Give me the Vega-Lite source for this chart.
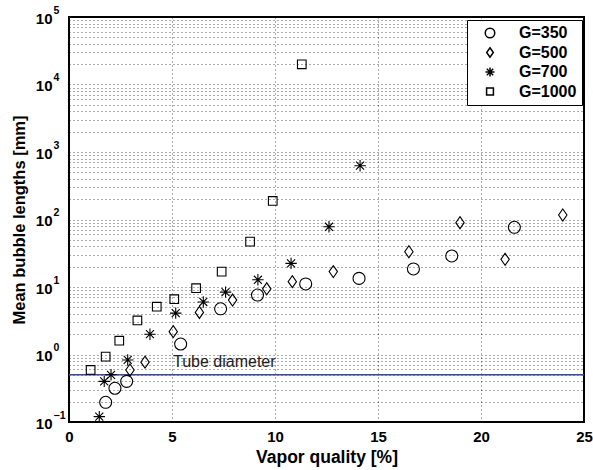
{
  "$schema": "https://vega.github.io/schema/vega-lite/v6.json",
  "width": 515,
  "height": 405,
  "autosize": {"type": "none"},
  "padding": {"left": 69, "top": 17, "right": 9, "bottom": 48},
  "background": "white",
  "config": {
    "font": "Liberation Sans",
    "view": {"stroke": "black", "strokeWidth": 2},
    "axis": {
      "domain": false,
      "ticks": false,
      "labelFont": "Liberation Sans",
      "labelFontWeight": "bold",
      "labelColor": "black",
      "titleFont": "Liberation Sans",
      "titleFontWeight": "bold",
      "titleColor": "black",
      "gridColor": "#000",
      "gridDash": [1, 3],
      "gridWidth": 1,
      "gridOpacity": 0.65
    }
  },
  "datasets": {
    "points": [
      {"x": 1.78, "y": 0.196, "series": "G=350"},
      {"x": 2.23, "y": 0.316, "series": "G=350"},
      {"x": 2.8, "y": 0.40, "series": "G=350"},
      {"x": 5.42, "y": 1.43, "series": "G=350"},
      {"x": 7.36, "y": 4.75, "series": "G=350"},
      {"x": 9.15, "y": 7.6, "series": "G=350"},
      {"x": 11.49, "y": 11.1, "series": "G=350"},
      {"x": 14.08, "y": 13.4, "series": "G=350"},
      {"x": 16.72, "y": 18.5, "series": "G=350"},
      {"x": 18.58, "y": 28.8, "series": "G=350"},
      {"x": 21.62, "y": 76.6, "series": "G=350"},
      {"x": 2.96, "y": 0.59, "series": "G=500"},
      {"x": 3.69, "y": 0.77, "series": "G=500"},
      {"x": 5.06, "y": 2.18, "series": "G=500"},
      {"x": 6.33, "y": 4.2, "series": "G=500"},
      {"x": 7.94, "y": 6.4, "series": "G=500"},
      {"x": 9.6, "y": 9.4, "series": "G=500"},
      {"x": 10.84, "y": 12, "series": "G=500"},
      {"x": 12.83, "y": 16.9, "series": "G=500"},
      {"x": 16.5, "y": 33.3, "series": "G=500"},
      {"x": 18.98, "y": 89.7, "series": "G=500"},
      {"x": 21.17, "y": 25.7, "series": "G=500"},
      {"x": 23.97, "y": 116.7, "series": "G=500"},
      {"x": 1.47, "y": 0.12, "series": "G=700"},
      {"x": 1.71, "y": 0.40, "series": "G=700"},
      {"x": 2.04, "y": 0.50, "series": "G=700"},
      {"x": 2.85, "y": 0.83, "series": "G=700"},
      {"x": 3.93, "y": 2.0, "series": "G=700"},
      {"x": 5.18, "y": 4.1, "series": "G=700"},
      {"x": 6.52, "y": 6.0, "series": "G=700"},
      {"x": 7.6, "y": 8.4, "series": "G=700"},
      {"x": 9.17, "y": 12.8, "series": "G=700"},
      {"x": 10.78, "y": 22.4, "series": "G=700"},
      {"x": 12.62, "y": 78, "series": "G=700"},
      {"x": 14.13, "y": 627, "series": "G=700"},
      {"x": 1.05, "y": 0.59, "series": "G=1000"},
      {"x": 1.78, "y": 0.93, "series": "G=1000"},
      {"x": 2.44, "y": 1.6, "series": "G=1000"},
      {"x": 3.32, "y": 3.2, "series": "G=1000"},
      {"x": 4.26, "y": 5.1, "series": "G=1000"},
      {"x": 5.11, "y": 6.6, "series": "G=1000"},
      {"x": 6.17, "y": 9.6, "series": "G=1000"},
      {"x": 7.41, "y": 16.9, "series": "G=1000"},
      {"x": 8.79, "y": 47, "series": "G=1000"},
      {"x": 9.89, "y": 188, "series": "G=1000"},
      {"x": 11.3, "y": 19900, "series": "G=1000"}
    ],
    "line": [{"y": 0.5}],
    "note": [{"x": 5.05, "y": 0.78, "label": "Tube diameter"}]
  },
  "encoding": {
    "x": {
      "field": "x",
      "type": "quantitative",
      "scale": {"domain": [0, 25], "nice": false, "zero": false},
      "axis": {
        "title": "Vapor quality [%]",
        "values": [0, 5, 10, 15, 20, 25],
        "labelFontSize": 15,
        "labelPadding": 7,
        "titlePadding": 4,
        "titleFontSize": 17.5,
        "labelFlush": false
      }
    }
  },
  "resolve": {"axis": {"y": "independent"}},
  "layer": [
    {
      "data": {"name": "line"},
      "mark": {"type": "rule", "color": "#3c4a9c", "strokeWidth": 1.5},
      "encoding": {
        "x": null,
        "y": {
          "field": "y",
          "type": "quantitative",
          "scale": {"type": "log", "domain": [0.1, 100000], "nice": false},
          "axis": {
            "orient": "left",
            "title": null,
            "grid": false,
            "values": [0.1, 1, 10, 100, 1000, 10000, 100000],
            "labelExpr": "datum.value == 0.1 ? '−1' : datum.value == 1 ? '0' : datum.value == 10 ? '1' : datum.value == 100 ? '2' : datum.value == 1000 ? '3' : datum.value == 10000 ? '4' : '5'",
            "labelFontSize": 10.5,
            "labelAlign": "left",
            "labelPadding": 16,
            "labelOffset": -7,
            "labelOverlap": false,
            "labelFlush": false
          }
        }
      }
    },
    {
      "data": {"name": "note"},
      "mark": {"type": "text", "align": "left", "baseline": "middle", "fontSize": 16, "font": "Liberation Sans", "color": "#222"},
      "encoding": {
        "y": {"field": "y", "type": "quantitative", "axis": null},
        "text": {"field": "label"}
      }
    },
    {
      "data": {"name": "points"},
      "mark": {"type": "point", "filled": false, "stroke": "black", "strokeWidth": 1.1, "size": 144, "opacity": 1},
      "encoding": {
        "y": {
          "field": "y",
          "type": "quantitative",
          "axis": {
            "orient": "left",
            "grid": true,
            "title": "Mean bubble lengths [mm]",
            "titleFontSize": 16.5,
            "titlePadding": 8,
            "values": [0.1, 0.2, 0.3, 0.4, 0.5, 0.6, 0.7, 0.8, 0.9, 1, 2, 3, 4, 5, 6, 7, 8, 9, 10, 20, 30, 40, 50, 60, 70, 80, 90, 100, 200, 300, 400, 500, 600, 700, 800, 900, 1000, 2000, 3000, 4000, 5000, 6000, 7000, 8000, 9000, 10000, 20000, 30000, 40000, 50000, 60000, 70000, 80000, 90000, 100000],
            "labelExpr": "datum.value == 0.1 || datum.value == 1 || datum.value == 10 || datum.value == 100 || datum.value == 1000 || datum.value == 10000 || datum.value == 100000 ? '10' : ''",
            "labelFontSize": 15,
            "labelPadding": 17,
            "labelOffset": 1,
            "labelOverlap": false,
            "labelFlush": false
          }
        },
        "shape": {
          "field": "series",
          "type": "nominal",
          "sort": ["G=350", "G=500", "G=700", "G=1000"],
          "scale": {
            "domain": ["G=350", "G=500", "G=700", "G=1000"],
            "range": [
              "circle",
              "M0,-1L0.7,0L0,1L-0.7,0Z",
              "M-0.95,0L0.95,0M0,-0.95L0,0.95M-0.67,-0.67L0.67,0.67M-0.67,0.67L0.67,-0.67",
              "M-0.72,-0.72L0.72,-0.72L0.72,0.72L-0.72,0.72Z"
            ]
          },
          "legend": {
            "title": null,
            "orient": "none",
            "legendX": 398,
            "legendY": 3,
            "padding": 5,
            "symbolOffset": 10,
            "strokeColor": "black",
            "fillColor": "white",
            "symbolSize": 90,
            "symbolStrokeColor": "black",
            "symbolStrokeWidth": 1.5,
            "labelFont": "Liberation Sans",
            "labelFontWeight": "bold",
            "labelFontSize": 16,
            "labelColor": "black",
            "labelOffset": 21,
            "rowPadding": 3.5
          }
        }
      }
    }
  ]
}
